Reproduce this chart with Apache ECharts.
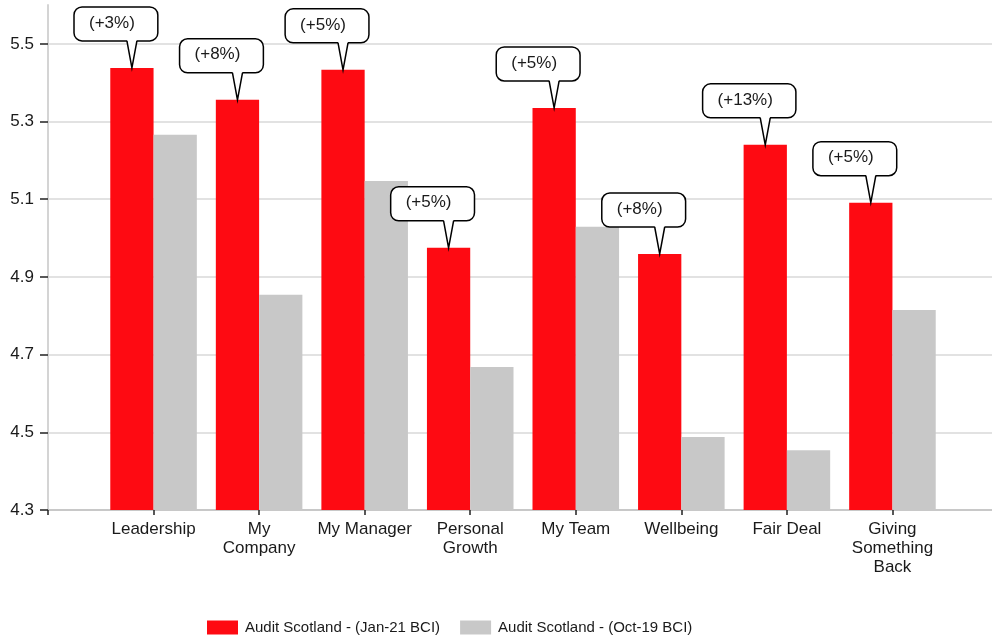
<!DOCTYPE html>
<html>
<head>
<meta charset="utf-8">
<script src="https://cdn.jsdelivr.net/npm/echarts@6/dist/echarts.min.js"></script>
<style>html,body{margin:0;padding:0;background:#fff}#c{width:992px;height:641px}</style>
</head>
<body>
<div id="c"></div>
<script>
const categories = ['Leadership', 'My\nCompany', 'My Manager', 'Personal\nGrowth', 'My Team', 'Wellbeing', 'Fair Deal', 'Giving\nSomething\nBack'];
const jan21 = [5.438, 5.356, 5.433, 4.975, 5.335, 4.959, 5.240, 5.091];
const oct19 = [5.266, 4.854, 5.147, 4.668, 5.029, 4.488, 4.454, 4.815];
const changes = ['(+3%)', '(+8%)', '(+5%)', '(+5%)', '(+5%)', '(+8%)', '(+13%)', '(+5%)'];
const yTicks = [4.3, 4.5, 4.7, 4.9, 5.1, 5.3, 5.5];
const seriesNames = ['Audit Scotland - (Jan-21 BCI)', 'Audit Scotland - (Oct-19 BCI)'];

const FONT = "'Liberation Sans', Arial, sans-serif";
const axisCats = [''].concat(categories, ['']);
const pad = a => [null].concat(a, [null]);
const calloutData = categories.map((c, i) => [i + 1, jan21[i], changes[i]]);

const mctx = document.createElement('canvas').getContext('2d');
mctx.font = '17px ' + FONT;

const chart = echarts.init(document.getElementById('c'), null, {renderer: 'canvas'});
chart.setOption({
  animation: false,
  backgroundColor: '#fff',
  grid: {left: 48, right: -6, top: 5, bottom: 131, containLabel: false, outerBoundsMode: 'none'},
  legend: {
    bottom: 1, left: 202,
    itemWidth: 31, itemHeight: 14, itemGap: 20,
    icon: 'rect',
    textStyle: {fontSize: 15, color: '#1a1a1a', fontFamily: FONT, padding: [0, 0, 0, 2]},
    data: seriesNames
  },
  xAxis: {
    type: 'category',
    data: axisCats,
    boundaryGap: false,
    axisLine: {lineStyle: {color: '#c8c8c8', width: 2}},
    axisTick: {show: true, length: 5, lineStyle: {color: '#222', width: 1.5}},
    axisLabel: {interval: 0, fontSize: 17, color: '#1a1a1a', fontFamily: FONT, margin: 10, lineHeight: 19},
    splitLine: {show: false}
  },
  yAxis: {
    type: 'value',
    min: 4.3, max: 5.6,
    axisLine: {show: true, lineStyle: {color: '#d4d4d4', width: 2}},
    axisTick: {show: true, length: 8, lineStyle: {color: '#222', width: 1.5}, customValues: yTicks},
    axisLabel: {fontSize: 17, color: '#1a1a1a', fontFamily: FONT, margin: 14, customValues: yTicks, formatter: v => v.toFixed(1)},
    splitLine: {show: true, lineStyle: {color: '#d9d9d9', width: 1.5}}
  },
  series: [
    {name: seriesNames[0], type: 'bar', data: pad(jan21), barWidth: '41%', barGap: '0%', itemStyle: {color: '#fe0a12'}},
    {name: seriesNames[1], type: 'bar', data: pad(oct19), barWidth: '41%', barGap: '0%', itemStyle: {color: '#c8c8c8'}},
    {
      type: 'custom', z: 10, silent: true,
      data: calloutData,
      encode: {x: 0, y: 1},
      renderItem: function (params, api) {
        const p = api.coord([api.value(0), api.value(1)]);
        const bw = api.size([1, 0])[0];
        const tipX = p[0] - bw * 0.41 / 2;
        const tipY = p[1];
        const txt = calloutData[params.dataIndex][2];
        const tw = mctx.measureText(txt).width;
        const w = tw + 38, h = 34;
        const cx = tipX - 16;
        const x0 = cx - w / 2, y0 = tipY - 61;
        const y1 = y0 + h;
        return {
          type: 'group',
          children: [
            {type: 'rect', shape: {x: x0, y: y0, width: w, height: h, r: 8}, style: {fill: '#fff', stroke: '#000', lineWidth: 1.5}},
            {type: 'polygon', shape: {points: [[tipX - 5, y1 - 1.5], [tipX, tipY], [tipX + 5, y1 - 1.5]]}, style: {fill: '#fff', stroke: null}},
            {type: 'polyline', shape: {points: [[tipX - 5, y1], [tipX, tipY], [tipX + 5, y1]]}, style: {fill: null, stroke: '#000', lineWidth: 1.5}},
            {type: 'text', style: {text: txt, x: cx - 4, y: y0 + h / 2 - 1, align: 'center', verticalAlign: 'middle', font: '17px ' + FONT, fill: '#1a1a1a'}}
          ]
        };
      }
    }
  ]
});
</script>
</body>
</html>
